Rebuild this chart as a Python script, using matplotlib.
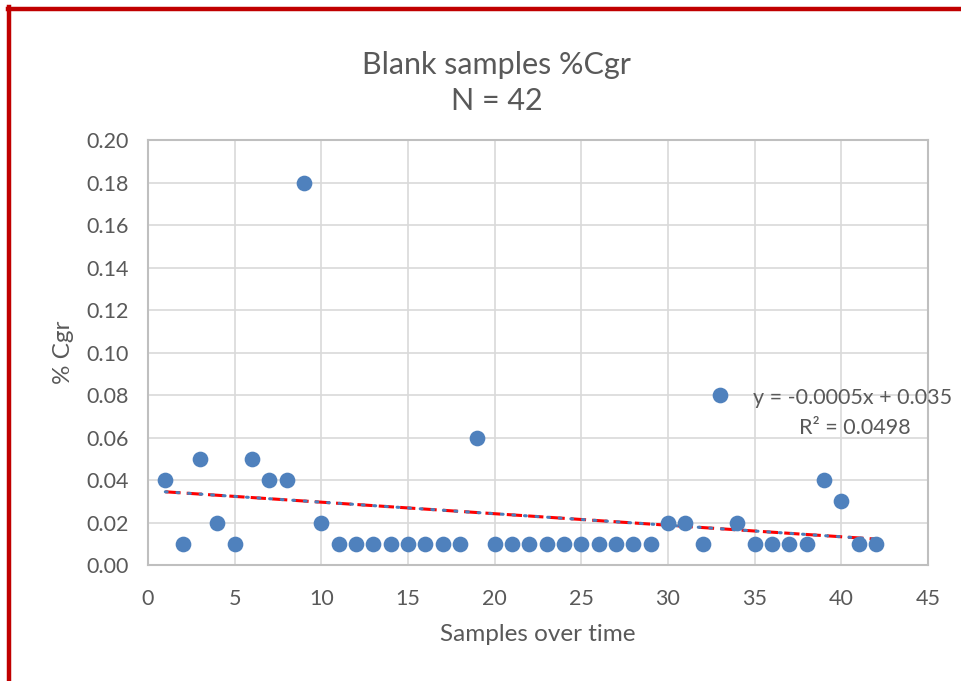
import matplotlib.pyplot as plt
import numpy as np

#данные
sample_no = list(range(1, 43))
cgr = [0.04, 0.01, 0.05, 0.02, 0.01, 0.05, 0.04, 0.04, 0.18, 0.02,
       0.01, 0.01, 0.01, 0.01, 0.01, 0.01, 0.01, 0.01, 0.06, 0.01,
       0.01, 0.01, 0.01, 0.01, 0.01, 0.01, 0.01, 0.01, 0.01, 0.02,
       0.02, 0.01, 0.08, 0.02, 0.01, 0.01, 0.01, 0.01, 0.04, 0.03,
       0.01, 0.01]
eq_text = 'y = -0.0005x + 0.035'
r2_text = 'R² = 0.0498'

plt.rcParams['font.family'] = ['Lato', 'DejaVu Sans']
txt = '#595959'

fig = plt.figure(figsize=(9.61, 6.81), dpi=100)
ax = fig.add_axes([0.154, 0.1703, 0.8117, 0.6241])

#линия тренда (МНК)
k, b = np.polyfit(sample_no, cgr, 1)
xt = np.array([sample_no[0], sample_no[-1]])
ax.plot(xt, k*xt + b, color='#ff0000', lw=2.2, ls=(0, (5, 2)), zorder=3)
ax.plot(xt, k*xt + b, color='#4a7ebb', lw=2.2, ls=(0, (0.6, 3.2)),
        dash_capstyle='round', zorder=4)

#точки
ax.plot(sample_no, cgr, 'o', color='#4f81bd', markersize=11.3,
        markeredgewidth=0, zorder=5)

ax.set_xlim(0, 45)
ax.set_ylim(0, 0.20)
ax.set_xticks(range(0, 46, 5))
yt = np.arange(0, 0.201, 0.02)
ax.set_yticks(yt)
ax.set_yticklabels(['%.2f' % v for v in yt])
ax.grid(True, color='#d9d9d9', lw=1.2)
ax.set_axisbelow(True)
for s in ax.spines.values():
    s.set_color('#bfbfbf')
    s.set_linewidth(1.5)
ax.tick_params(length=0, labelsize=15.5, colors=txt)
ax.tick_params(axis='x', pad=17)
ax.tick_params(axis='y', pad=13.5)

ax.set_xlabel('Samples over time', fontsize=17.5, color=txt, labelpad=11)
ax.set_ylabel('% Cgr', fontsize=17.5, color=txt, labelpad=9)

fig.text(0.517, 1 - 65/681, 'Blank samples %Cgr', ha='center', va='center', fontsize=22, color=txt)
fig.text(0.517, 1 - 101/681, 'N = 42', ha='center', va='center', fontsize=22, color=txt)

#уравнение тренда
fig.text(952/961, 1 - 398/681, eq_text, ha='right', va='center', fontsize=15.5, color=txt)
fig.text(911/961, 1 - 428/681, r2_text, ha='right', va='center', fontsize=15.5, color=txt)

#красная рамка
fig.add_artist(plt.Line2D([8/961, 1], [1 - 8.5/681, 1 - 8.5/681], color='#c00000', lw=3.2))
fig.add_artist(plt.Line2D([8.5/961, 8.5/961], [0, 1 - 7/681], color='#c00000', lw=3.2))

fig.savefig('out.png', dpi=100)
